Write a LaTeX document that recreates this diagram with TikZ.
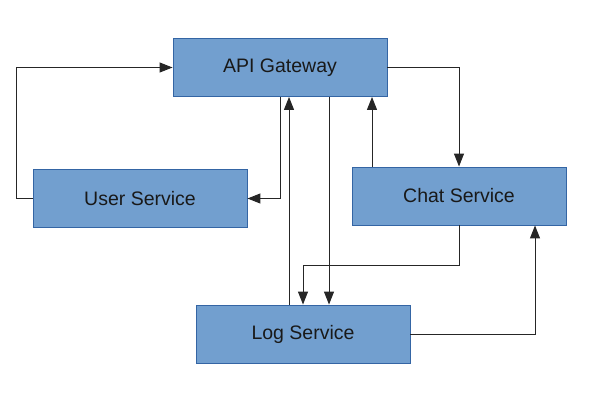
\documentclass[tikz,border=0pt]{standalone}
\usepackage{fontspec}
\setmainfont{Liberation Sans}
\usetikzlibrary{arrows.meta,calc}
\definecolor{boxfill}{HTML}{729FCF}
\definecolor{boxline}{HTML}{3465A4}
\begin{document}
\begin{tikzpicture}[x=1pt,y=-1pt,
  svc/.style={draw=boxline,fill=boxfill,line width=0.9pt,minimum width=214pt,minimum height=58pt,inner sep=0pt,
    font=\fontsize{19.5}{23}\selectfont,text=black!90},
  arr/.style={draw=black!85,line width=1pt,-{Triangle[length=13pt,width=10pt]}}]
\useasboundingbox (0,0) rectangle (596,407);
\node[svc] (api)  at (280,67.5)  {API Gateway};
\node[svc] (user) at (140,198.5) {User Service};
\node[svc] (chat) at (459,196)   {Chat Service};
\node[svc] (log)  at (303,334)   {Log Service};
\draw[arr] (user.west) -- ++(-16,0) |- (api.west);
\draw[arr] (api.south) |- (user.east);
\draw[arr] (api.east) -| (chat.north);
\draw[arr] (chat.north -| 372,0) -- (api.south -| 372,0);
\draw[arr] (log.north -| 289,0) -- (api.south -| 289,0);
\draw[arr] (api.south -| 329,0) -- (log.north -| 329,0);
\draw[arr] (chat.south) -- ++(0,40) -| (log.north);
\draw[arr] (log.east) -| (chat.south -| 535,0);
\end{tikzpicture}
\end{document}
